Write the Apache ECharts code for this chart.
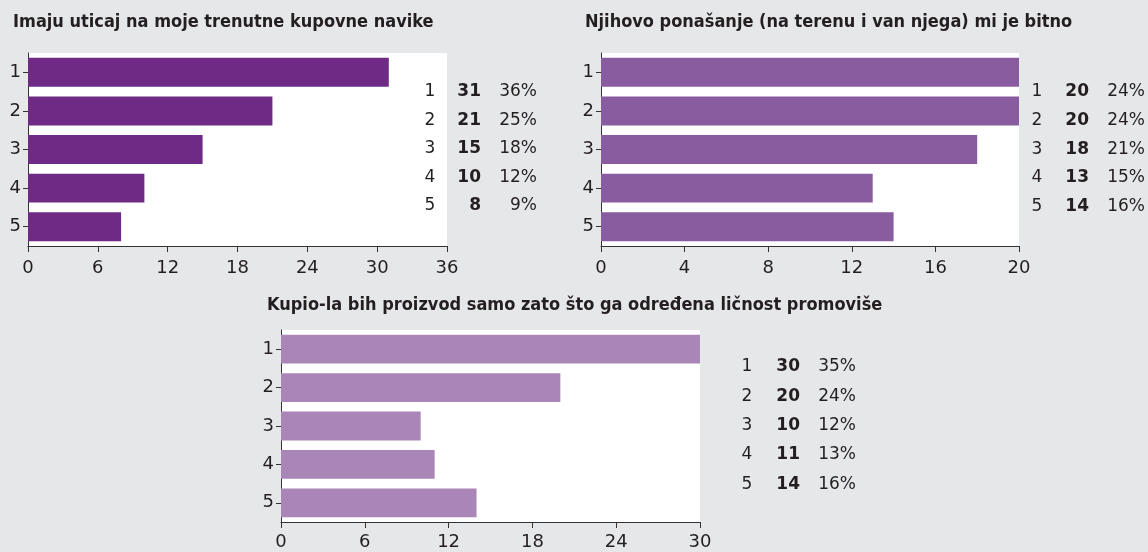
<!DOCTYPE html>
<html><head><meta charset="utf-8">
<script src="https://cdn.jsdelivr.net/npm/echarts@6/dist/echarts.min.js"></script>
<style>html,body{margin:0;padding:0;background:#e6e7e9}#c{width:1148px;height:552px}</style>
</head><body><div id="c"></div>
<script>
const categories = ['1','2','3','4','5'];
const titles = [
  'Imaju uticaj na moje trenutne kupovne navike',
  'Njihovo ponašanje (na terenu i van njega) mi je bitno',
  'Kupio-la bih proizvod samo zato što ga određena ličnost promoviše'
];
const values1 = [31, 21, 15, 10, 8];
const values2 = [20, 20, 18, 13, 14];
const values3 = [30, 20, 10, 11, 14];
const percents1 = ['36%','25%','18%','12%','9%'];
const percents2 = ['24%','24%','21%','15%','16%'];
const percents3 = ['35%','24%','12%','13%','16%'];
const axisMax = [36, 20, 30];
const axisStep = [6, 4, 6];

const colors = ['#6f2a86', '#895b9f', '#a985b8'];
const textColor = '#231f20';
const numFont = 'DejaVu Sans';
const titleFont = "'Liberation Sans Narrow','DejaVu Sans Condensed','Liberation Sans',sans-serif";

const grids = [
  {left: 28, top: 53, width: 419, height: 193},
  {left: 601, top: 53, width: 418, height: 193},
  {left: 281, top: 330, width: 419, height: 192}
];
const tables = [
  {lx: 430, nx: 481, px: 537, y0: 92, dy: 28.4},
  {lx: 1037, nx: 1089, px: 1145, y0: 92, dy: 28.6},
  {lx: 747, nx: 800, px: 856, y0: 367, dy: 29.3}
];
const titlePos = [{left: 13, top: 13}, {left: 585, top: 13}, {left: 267, top: 296}];
const xLabelMargin = [13, 13, 11];

const allValues = [values1, values2, values3];
const allPercents = [percents1, percents2, percents3];

const chart = echarts.init(document.getElementById('c'));
const option = {
  backgroundColor: '#e6e7e9',
  animation: false,
  title: titles.map((t, i) => ({
    text: t, left: titlePos[i].left, top: titlePos[i].top, padding: 0,
    textStyle: {fontFamily: titleFont, fontWeight: 'bold', fontSize: 18, color: textColor}
  })),
  grid: grids.map(g => Object.assign({show: true, backgroundColor: '#ffffff', borderWidth: 0, containLabel: false}, g)),
  xAxis: grids.map((g, i) => ({
    type: 'value', gridIndex: i, min: 0, max: axisMax[i], interval: axisStep[i],
    splitLine: {show: false},
    axisLine: {show: true, lineStyle: {color: '#333', width: 1}},
    axisTick: {show: true, length: 6, lineStyle: {color: '#333'}},
    axisLabel: {show: true, margin: xLabelMargin[i], color: textColor, fontFamily: numFont, fontSize: 18, showMinLabel: true, showMaxLabel: true}
  })),
  yAxis: grids.map((g, i) => ({
    type: 'category', gridIndex: i, data: categories, inverse: true,
    axisLine: {show: true, lineStyle: {color: '#333', width: 1}},
    axisTick: {show: true, alignWithLabel: true, length: 5, lineStyle: {color: '#333'}},
    axisLabel: {margin: 7, color: textColor, fontFamily: numFont, fontSize: 18}
  })),
  series: allValues.map((v, i) => ({
    type: 'bar', xAxisIndex: i, yAxisIndex: i, data: v,
    barCategoryGap: '25%', itemStyle: {color: colors[i]}, silent: true
  })),
  graphic: []
};
allValues.forEach((vals, i) => {
  const t = tables[i];
  vals.forEach((v, r) => {
    const y = t.y0 + r * t.dy;
    option.graphic.push({type: 'text', silent: true, style: {text: categories[r], x: t.lx, y: y, textAlign: 'center', textVerticalAlign: 'middle', fill: textColor, font: '17px "DejaVu Sans"'}});
    option.graphic.push({type: 'text', silent: true, style: {text: String(v), x: t.nx, y: y, textAlign: 'right', textVerticalAlign: 'middle', fill: textColor, font: 'bold 17px "DejaVu Sans"'}});
    option.graphic.push({type: 'text', silent: true, style: {text: allPercents[i][r], x: t.px, y: y, textAlign: 'right', textVerticalAlign: 'middle', fill: textColor, font: '17px "DejaVu Sans"'}});
  });
});
chart.setOption(option);
</script></body></html>
